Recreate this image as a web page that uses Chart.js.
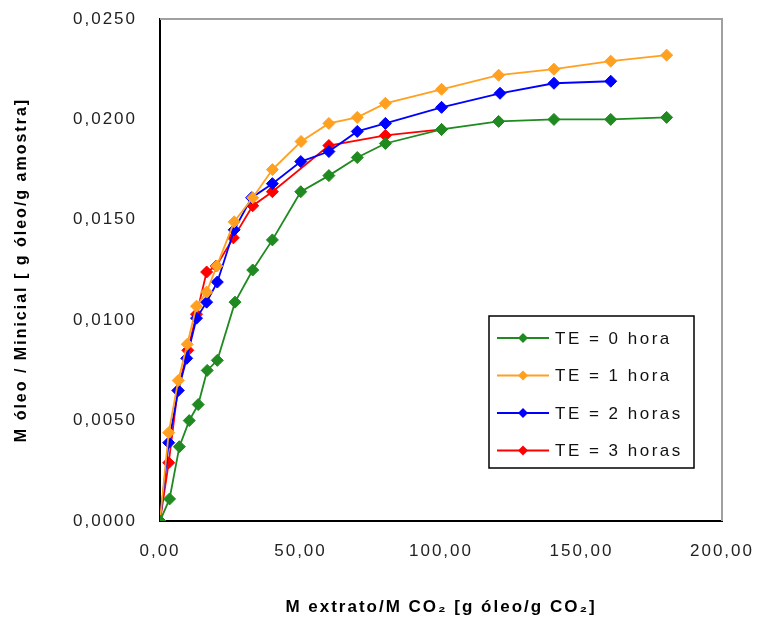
<!DOCTYPE html>
<html>
<head>
<meta charset="utf-8">
<title>Extraction curves</title>
<script src="https://cdn.jsdelivr.net/npm/chart.js@4/dist/chart.umd.min.js"></script>
<style>
  body { margin: 0; background: #fff; }
  canvas { display: block; }
</style>
</head>
<body>
<canvas id="curveChart" width="760" height="626"></canvas>
<script>
// Data (x: g oil / g CO2, y: g oil / g sample)
const seriesLabels = ['TE = 0 hora', 'TE = 1 hora', 'TE = 2 horas', 'TE = 3 horas'];
const seriesColors = ['#1f8a1f', '#ffa020', '#0000ff', '#ff0000'];

const xTE0 = [0, 3.4, 6.9, 10.4, 13.6, 16.8, 20.4, 26.7, 33.0, 40.0, 50.1, 60.1, 70.2, 80.2, 100.2, 120.5, 140.2, 160.4, 180.3];
const yTE0 = [0, 0.0011, 0.0037, 0.0050, 0.0058, 0.0075, 0.0080, 0.0109, 0.0125, 0.0140, 0.0164, 0.0172, 0.0181, 0.0188, 0.0195, 0.0199, 0.0200, 0.0200, 0.0201];

const xTE1 = [0, 3.1, 6.5, 9.7, 13.0, 16.6, 20.2, 26.4, 33.0, 40.0, 50.2, 60.1, 70.2, 80.2, 100.2, 120.5, 140.2, 160.4, 180.3];
const yTE1 = [0, 0.0044, 0.0070, 0.0088, 0.0107, 0.0114, 0.0127, 0.0149, 0.0161, 0.0175, 0.0189, 0.0198, 0.0201, 0.0208, 0.0215, 0.0222, 0.0225, 0.0229, 0.0232];

const xTE2 = [0, 3.1, 6.5, 9.5, 13.0, 16.6, 20.4, 26.4, 32.6, 40.0, 50.1, 60.1, 70.2, 80.2, 100.2, 121.0, 140.2, 160.4];
const yTE2 = [0, 0.0039, 0.0065, 0.0081, 0.0101, 0.0109, 0.0119, 0.0145, 0.0161, 0.0168, 0.0179, 0.0184, 0.0194, 0.0198, 0.0206, 0.0213, 0.0218, 0.0219];

const xTE3 = [0, 3.1, 6.3, 9.9, 13.0, 16.6, 20.0, 26.1, 33.0, 40.0, 60.1, 80.2, 100.2];
const yTE3 = [0, 0.0029, 0.0065, 0.0085, 0.0103, 0.0124, 0.0127, 0.0141, 0.0157, 0.0164, 0.0187, 0.0192, 0.0195];

const xAxisTitle = 'M extrato/M CO\u2082 [g óleo/g CO\u2082]';
const yAxisTitle = 'M óleo / Minicial [ g óleo/g amostra]';

const FONT = "'Liberation Sans', Arial, sans-serif";

function toPoints(xs, ys) {
    return xs.map((x, i) => ({ x: x, y: ys[i] }));
}

const seriesData = [
    toPoints(xTE0, yTE0),
    toPoints(xTE1, yTE1),
    toPoints(xTE2, yTE2),
    toPoints(xTE3, yTE3),
];

// the original uses widely spaced lettering everywhere
const wideText = {
    id: 'wideText',
    beforeInit(chart) { chart.ctx.letterSpacing = '2px'; },
    beforeUpdate(chart) { chart.ctx.letterSpacing = '2px'; },
    beforeDraw(chart) { chart.ctx.letterSpacing = '2px'; },
};

// gray frame on top / right of the plot area
const frameBox = {
    id: 'frameBox',
    beforeDatasetsDraw(chart) {
        const { ctx, chartArea: a } = chart;
        ctx.save();
        ctx.strokeStyle = '#a0a0a0';
        ctx.lineWidth = 2;
        ctx.beginPath();
        ctx.moveTo(a.left, a.top);
        ctx.lineTo(a.right, a.top);
        ctx.lineTo(a.right, a.bottom);
        ctx.stroke();
        ctx.restore();
    }
};

// legend box drawn inside the plot area
const boxLegend = {
    id: 'boxLegend',
    afterDraw(chart) {
        const { ctx, chartArea: a } = chart;
        const right = a.right - 28;
        const bottom = a.bottom - 53;
        const w = 205, h = 152;
        const left = right - w, top = bottom - h;
        ctx.save();
        ctx.fillStyle = '#fff';
        ctx.fillRect(left, top, w, h);
        ctx.strokeStyle = '#000';
        ctx.lineWidth = 1.5;
        ctx.strokeRect(left, top, w, h);
        ctx.font = '17px ' + FONT;
        ctx.letterSpacing = '2.5px';
        ctx.textBaseline = 'middle';
        seriesLabels.forEach((label, i) => {
            const y = top + 22 + i * 37.5;
            ctx.strokeStyle = seriesColors[i];
            ctx.lineWidth = 2;
            ctx.beginPath();
            ctx.moveTo(left + 8, y);
            ctx.lineTo(left + 60, y);
            ctx.stroke();
            ctx.fillStyle = seriesColors[i];
            ctx.beginPath();
            ctx.moveTo(left + 34, y - 5);
            ctx.lineTo(left + 39, y);
            ctx.lineTo(left + 34, y + 5);
            ctx.lineTo(left + 29, y);
            ctx.closePath();
            ctx.fill();
            ctx.fillStyle = '#111';
            ctx.fillText(label, left + 66, y + 1);
        });
        ctx.restore();
    }
};

const ctx = document.getElementById('curveChart').getContext('2d');
new Chart(ctx, {
    type: 'line',
    data: {
        datasets: seriesData.map((pts, i) => ({
            label: seriesLabels[i],
            data: pts,
            borderColor: seriesColors[i],
            backgroundColor: seriesColors[i],
            borderWidth: 1.8,
            pointStyle: 'rectRot',
            pointRadius: 6,
            pointBorderWidth: 1,
            tension: 0,
            fill: false,
        })),
    },
    options: {
        responsive: false,
        animation: false,
        layout: { padding: { top: 19, right: 38, left: 0, bottom: 0 } },
        plugins: {
            legend: { display: false },
            tooltip: { enabled: false },
        },
        scales: {
            x: {
                type: 'linear',
                min: 0,
                max: 200,
                afterFit: s => { s.height = 105; s.paddingLeft = 0; s.paddingRight = 0; },
                border: { color: '#000', width: 2 },
                grid: { display: false, drawOnChartArea: false, drawTicks: true, tickLength: 7, tickColor: '#000', tickWidth: 2 },
                ticks: {
                    stepSize: 50,
                    padding: 13,
                    color: '#222',
                    font: { family: FONT, size: 17 },
                    callback: v => v.toFixed(2).replace('.', ','),
                },
                title: {
                    display: true,
                    text: xAxisTitle,
                    color: '#000',
                    font: { family: FONT, size: 17, weight: 'bold' },
                    padding: { top: 0, bottom: 8 },
                },
            },
            y: {
                type: 'linear',
                min: 0,
                max: 0.025,
                afterFit: s => { s.width = 160; s.paddingTop = 0; s.paddingBottom = 0; },
                border: { color: '#000', width: 2 },
                grid: { display: false, drawOnChartArea: false, drawTicks: true, tickLength: 8, tickColor: '#000', tickWidth: 2 },
                ticks: {
                    stepSize: 0.005,
                    padding: 15,
                    color: '#222',
                    font: { family: FONT, size: 17 },
                    callback: v => v.toFixed(4).replace('.', ','),
                },
                title: {
                    display: true,
                    text: yAxisTitle,
                    color: '#000',
                    font: { family: FONT, size: 16, weight: 'bold' },
                    padding: { top: 12, bottom: 0 },
                },
            },
        },
    },
    plugins: [wideText, frameBox, boxLegend],
});
</script>
</body>
</html>
